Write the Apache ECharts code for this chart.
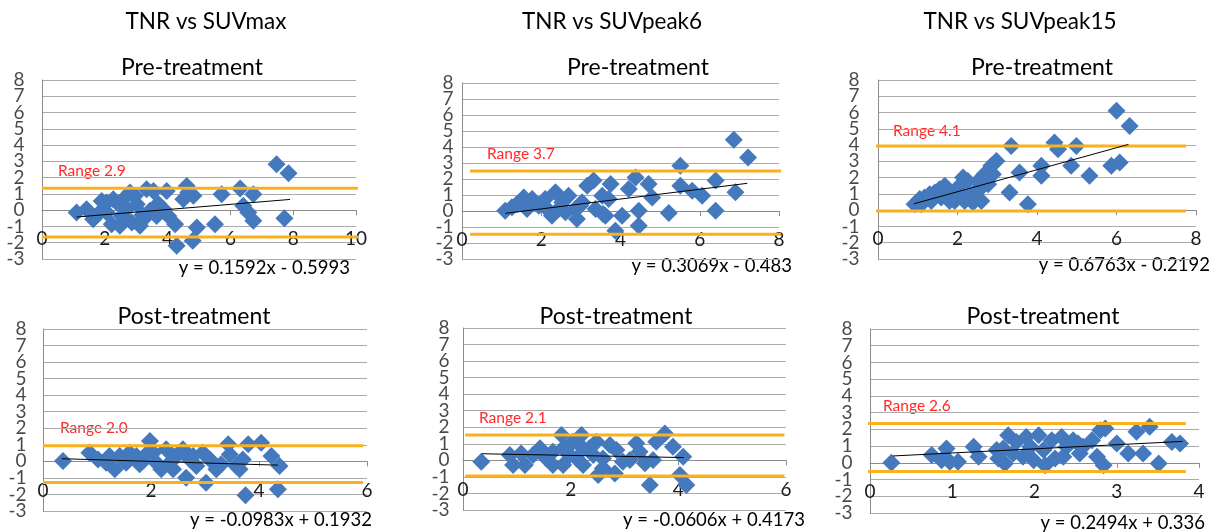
<!DOCTYPE html>
<html><head><meta charset="utf-8">
<script src="https://cdn.jsdelivr.net/npm/echarts@6/dist/echarts.min.js"></script>
<style>html,body{margin:0;padding:0;background:#fff}#c{width:1227px;height:532px}</style>
</head><body><div id="c"></div>
<script>
// ---------- data ----------
const columnTitles = ['TNR vs SUVmax', 'TNR vs SUVpeak6', 'TNR vs SUVpeak15'];
const rowTitles = ['Pre-treatment', 'Post-treatment'];
const yMin = -3, yMax = 8, yInterval = 1;
const yTickLabels = [-3, -2, -1, 0, 1, 2, 3, 4, 5, 6, 7, 8];
const xMaxes = [10, 8, 8, 6, 6, 4];
const xIntervals = [2, 2, 2, 2, 2, 1];
const rangeLabels = ['Range 2.9', 'Range 3.7', 'Range 4.1', 'Range 2.0', 'Range 2.1', 'Range 2.6'];
const equations = ['y = 0.1592x - 0.5993', 'y = 0.3069x - 0.483', 'y = 0.6763x - 0.2192',
                   'y = -0.0983x + 0.1932', 'y = -0.0606x + 0.4173', 'y = 0.2494x + 0.336'];
const upperLimits = [1.35, 2.5, 3.95, 0.95, 1.54, 2.35];
const lowerLimits = [-1.65, -1.45, -0.05, -1.28, -0.94, -0.52];
const limitSpans = [[0, 10.2], [0.2, 8.26], [-0.28, 7.75], [0, 5.93], [0.04, 5.97], [-0.04, 3.84]];
const trendEnds = [
  [[1.1, -0.42], [7.9, 0.66]],
  [[1.1, -0.145], [7.2, 1.73]],
  [[0.9, 0.39], [6.3, 4.04]],
  [[0.35, 0.16], [4.35, -0.23]],
  [[0.35, 0.40], [4.1, 0.17]],
  [[0.28, 0.41], [3.8, 1.28]]
];
const preSUVmax = [
  [7.47, 2.82], [7.85, 2.27], [7.72, -0.49], [6.73, 0.98], [6.31, 1.33], [6.41, 0.27], [6.57, -0.14],
  [6.73, -0.65], [5.72, 0.98], [5.51, -0.86], [4.93, -1.06], [4.80, -1.88], [4.29, -2.18], [4.24, -0.86],
  [4.61, 1.49], [4.66, 1.08], [4.50, 0.67], [4.82, 0.88], [3.97, 1.18], [3.87, 0.06], [3.65, -0.35],
  [4.02, -0.35], [3.55, 1.18], [3.33, 1.29], [3.12, -0.96], [3.23, -0.55], [2.96, 0.88], [2.80, 1.08],
  [2.70, 0.06], [2.54, -0.35], [2.38, 0.47], [2.27, 0.67], [2.22, -0.86], [2.06, -0.14], [1.90, 0.57],
  [1.79, -0.24], [1.63, -0.55], [1.42, 0.06], [1.10, -0.14], [2.48, -0.96], [2.86, -0.76], [3.44, -0.04],
  [3.02, 0.37], [2.06, 0.47], [2.59, 0.67], [3.70, 0.40], [3.20, -0.30]
];
const preSUVpeak6 = [
  [6.86, 4.46], [7.22, 3.35], [5.51, 2.83], [6.90, 1.17], [6.40, 1.90], [6.40, 0.02], [6.06, 0.96],
  [5.81, 1.27], [5.51, 1.58], [5.22, -0.13], [4.71, 1.69], [4.80, 0.85], [4.38, 2.10], [4.21, 1.38],
  [4.46, 0.02], [4.46, -0.92], [4.04, -0.29], [3.87, -1.23], [3.75, 1.69], [3.62, -0.29], [3.54, 0.96],
  [3.32, 1.90], [3.16, 1.58], [3.37, 0.13], [2.90, -0.50], [2.69, 0.96], [2.53, 0.54], [2.36, 1.17],
  [2.27, -0.29], [2.10, 0.75], [1.94, 0.33], [1.77, 0.75], [1.56, 0.85], [1.39, 0.44], [1.26, 0.23],
  [1.09, 0.02], [1.64, 0.13], [2.86, 0.13], [2.61, -0.08], [3.03, 0.54], [3.70, 0.75], [2.15, 0.13],
  [2.44, 0.13], [2.98, 0.33], [3.56, -0.19]
];
const preSUVpeak15 = [
  [6.00, 6.11], [6.33, 5.18], [6.08, 2.93], [5.87, 2.73], [5.32, 2.11], [4.99, 3.95], [4.86, 2.73],
  [4.44, 4.16], [4.53, 3.75], [4.11, 2.73], [4.11, 2.11], [3.35, 3.95], [3.56, 2.32], [3.31, 1.09],
  [3.77, 0.37], [2.98, 3.03], [2.85, 2.73], [2.68, 2.21], [2.52, 1.80], [2.60, 0.57], [2.43, 1.09],
  [2.26, 1.80], [2.14, 2.01], [2.01, 1.39], [1.93, 0.57], [1.80, 0.98], [1.68, 1.50], [1.55, 1.29],
  [1.43, 1.09], [1.30, 0.98], [1.17, 0.78], [1.05, 0.68], [0.92, 0.37], [1.09, 0.37], [2.26, 0.78],
  [2.18, 0.57], [2.39, 0.47], [2.89, 2.21], [2.77, 1.60], [1.80, 0.57], [1.59, 0.78], [1.34, 0.57],
  [2.52, 1.19], [2.10, 0.98]
];
const postSUVmax = [
  [0.37, 0.02], [0.86, 0.52], [1.02, 0.12], [1.17, -0.08], [1.33, -0.48], [1.42, 0.32], [1.60, 0.52],
  [1.54, -0.08], [1.79, -0.18], [1.85, 0.02], [1.98, 1.23], [2.04, 0.52], [2.10, -0.08], [2.19, -0.48],
  [2.28, 0.73], [2.41, -0.48], [2.47, 0.32], [2.59, 0.73], [2.65, -0.99], [2.72, 0.12], [2.84, -0.28],
  [2.96, 0.52], [3.02, -1.29], [3.09, 0.12], [3.21, -0.48], [3.30, -0.18], [3.43, 1.03], [3.46, 0.42],
  [3.58, -0.28], [3.70, 0.12], [3.80, 1.03], [3.75, -2.05], [4.04, 1.13], [4.23, 0.32], [4.38, -0.28],
  [4.35, -1.69], [3.64, -0.48], [1.91, 0.42], [2.35, -0.08], [2.78, 0.32], [1.73, 0.32], [1.23, 0.32]
];
const postSUVpeak6 = [
  [0.34, -0.08], [0.87, 0.32], [0.93, -0.28], [1.08, 0.42], [1.15, -0.28], [1.30, 0.32], [1.43, 0.73],
  [1.55, 0.12], [1.67, -0.28], [1.83, 1.53], [1.86, -0.28], [1.92, 0.73], [2.04, 1.13], [2.11, 0.12],
  [2.20, 1.53], [2.23, -0.28], [2.35, 0.73], [2.48, 1.13], [2.51, -0.89], [2.60, 0.12], [2.73, 0.93],
  [2.82, -0.79], [2.85, 0.62], [2.97, -0.08], [3.10, 0.02], [3.22, 1.03], [3.28, 0.52], [3.38, -0.18],
  [3.47, -1.49], [3.53, 0.02], [3.59, 1.13], [3.75, 1.63], [3.90, 0.83], [4.09, 0.22], [4.03, -0.89],
  [4.15, -1.49], [1.67, 0.52], [1.98, 0.32], [2.42, 0.32], [2.23, 0.73], [2.60, -0.48], [1.86, 0.73]
];
const postSUVpeak15 = [
  [0.26, 0.00], [0.75, 0.46], [0.87, 0.16], [0.93, 0.86], [0.97, 0.06], [1.07, 0.06], [1.26, 0.96],
  [1.32, 0.36], [1.56, 0.26], [1.62, 0.86], [1.68, 1.65], [1.64, -0.04], [1.78, 1.25], [1.90, 1.55],
  [1.86, 0.36], [1.99, 0.16], [2.05, 1.65], [2.11, 0.76], [2.13, -0.14], [2.21, 1.35], [2.25, 0.26],
  [2.33, 1.55], [2.39, 0.96], [2.47, 1.35], [2.53, 1.16], [2.59, 0.96], [2.70, 1.35], [2.76, 0.36],
  [2.80, 1.95], [2.84, -0.14], [2.86, 2.05], [3.00, 1.16], [3.14, 0.56], [3.24, 1.85], [3.32, 0.56],
  [3.40, 2.15], [3.51, -0.04], [3.67, 1.25], [3.77, 1.16], [1.74, 0.56], [1.95, 0.96], [2.35, 0.36],
  [2.55, 0.56], [1.54, 0.76]
];
const panelData = [preSUVmax, preSUVpeak6, preSUVpeak15, postSUVmax, postSUVpeak6, postSUVpeak15];

// ---------- layout / style ----------
const FONT = 'Lato, "Open Sans", sans-serif';
const BLUE = '#4579BE', ORANGE = '#F9B21E', GRID = '#ABABAB', AXIS = '#8C8C8C';
const grids = [
  {left: 42, top: 80, width: 314, height: 179},
  {left: 462, top: 83, width: 317, height: 176},
  {left: 878, top: 80, width: 318, height: 179},
  {left: 43, top: 329, width: 324, height: 182},
  {left: 463, top: 328, width: 323, height: 182},
  {left: 870, top: 329, width: 329, height: 184}
];
const yLabelMargins = [17, 8, 18, 16, 13, 17];
const xLabelMargins = [19, 19, 19, 20, 20, 20];
const colTitlePos = [[206, 22], [612, 22], [1020, 22]];
const subTitlePos = [[192, 68], [638, 68], [1042, 68], [194, 317], [616, 317], [1043, 317]];
const rangePos = [[58, 171], [487, 154], [893, 131], [60, 428], [479, 418], [883, 406]];
const eqPos = [[350, 268], [792, 266], [1210, 265], [372, 520], [805, 520], [1205, 523]];

const xAxes = [], yAxes = [], series = [], graphics = [];
for (let i = 0; i < 6; i++) {
  // move the x axis line up to y = 0 inside the grid
  const zeroOffset = -((0 - yMin) / (yMax - yMin)) * grids[i].height;
  xAxes.push({
    type: 'value', gridIndex: i, min: 0, max: xMaxes[i], interval: xIntervals[i],
    position: 'bottom', offset: zeroOffset,
    axisLine: {onZero: false, lineStyle: {color: AXIS, width: 1}},
    axisTick: {show: true, length: 5, lineStyle: {color: AXIS}},
    splitLine: {show: false},
    axisLabel: {color: '#1a1a1a', fontSize: 19, fontFamily: FONT, margin: xLabelMargins[i],
                showMinLabel: true, showMaxLabel: true, hideOverlap: false}
  });
  yAxes.push({
    type: 'value', gridIndex: i, min: yMin, max: yMax, interval: yInterval,
    axisLine: {show: true, onZero: false, lineStyle: {color: AXIS, width: 1}},
    axisTick: {show: false},
    splitLine: {show: true, lineStyle: {color: GRID, width: 1}},
    axisLabel: {show: false}
  });
  // y tick labels, placed by the y scale at x = 0
  series.push({
    type: 'scatter', xAxisIndex: i, yAxisIndex: i, silent: true, clip: false,
    data: yTickLabels.map(v => [0, v]), symbol: 'circle', symbolSize: 1,
    itemStyle: {color: 'rgba(0,0,0,0)'},
    label: {show: true, position: 'left', distance: yLabelMargins[i], color: '#1a1a1a',
            fontSize: 19, fontFamily: FONT, formatter: p => String(p.value[1])},
    labelLayout: {hideOverlap: false}, z: 1
  });
  series.push({
    type: 'scatter', xAxisIndex: i, yAxisIndex: i, data: panelData[i],
    symbol: 'diamond', symbolSize: 18, itemStyle: {color: BLUE, opacity: 1}, z: 2
  });
  series.push({
    type: 'line', xAxisIndex: i, yAxisIndex: i, clip: false, symbol: 'none', silent: true,
    data: [[limitSpans[i][0], upperLimits[i]], [limitSpans[i][1], upperLimits[i]]],
    lineStyle: {color: ORANGE, width: 3}, z: 3
  });
  series.push({
    type: 'line', xAxisIndex: i, yAxisIndex: i, clip: false, symbol: 'none', silent: true,
    data: [[limitSpans[i][0], lowerLimits[i]], [limitSpans[i][1], lowerLimits[i]]],
    lineStyle: {color: ORANGE, width: 3}, z: 3
  });
  series.push({
    type: 'line', xAxisIndex: i, yAxisIndex: i, symbol: 'none', silent: true,
    data: trendEnds[i], lineStyle: {color: '#000', width: 1}, z: 4
  });
  graphics.push({type: 'text', x: subTitlePos[i][0], y: subTitlePos[i][1],
    style: {text: rowTitles[Math.floor(i / 3)], font: '23px ' + FONT, fill: '#000', align: 'center', verticalAlign: 'middle'}});
  graphics.push({type: 'text', x: rangePos[i][0], y: rangePos[i][1],
    style: {text: rangeLabels[i], font: '15.5px ' + FONT, fill: '#FF2A2A', align: 'left', verticalAlign: 'middle'}});
  graphics.push({type: 'text', x: eqPos[i][0], y: eqPos[i][1],
    style: {text: equations[i], font: '18.5px ' + FONT, fill: '#000', align: 'right', verticalAlign: 'middle'}});
}
for (let c = 0; c < 3; c++) {
  graphics.push({type: 'text', x: colTitlePos[c][0], y: colTitlePos[c][1],
    style: {text: columnTitles[c], font: '22.5px ' + FONT, fill: '#000', align: 'center', verticalAlign: 'middle'}});
}

const chart = echarts.init(document.getElementById('c'));
chart.setOption({
  animation: false,
  backgroundColor: '#fff',
  grid: grids,
  xAxis: xAxes,
  yAxis: yAxes,
  series: series,
  graphic: graphics
});
</script></body></html>
